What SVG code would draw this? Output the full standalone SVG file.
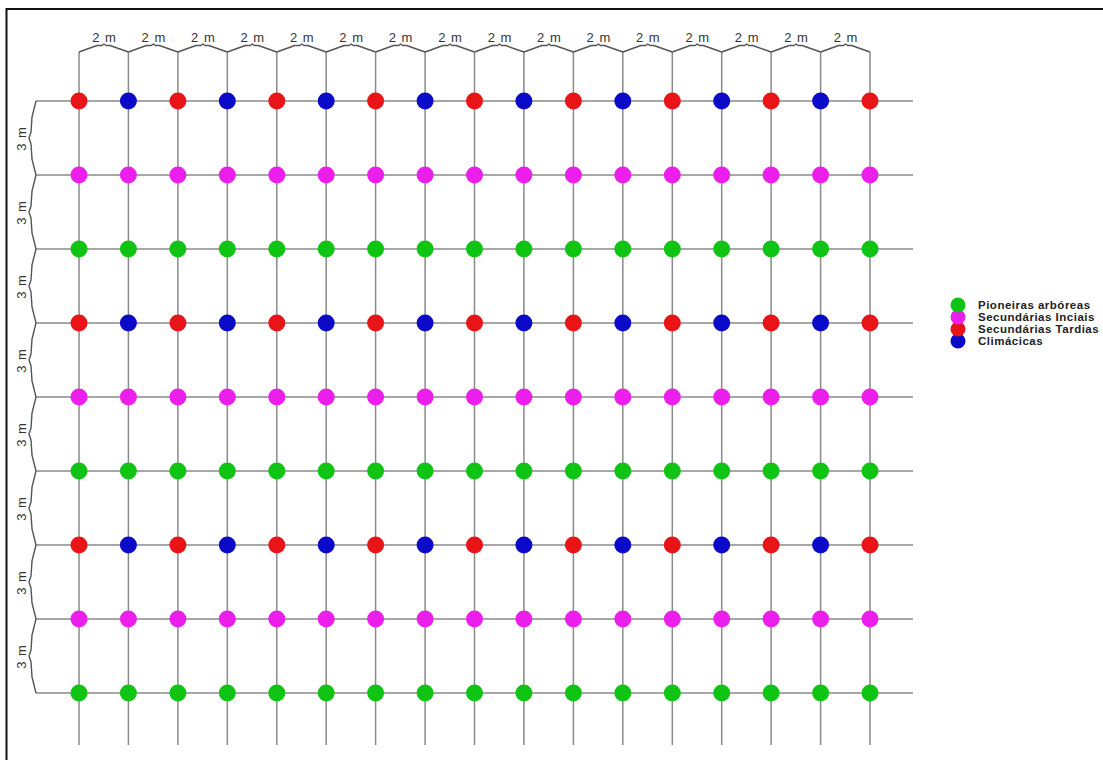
<svg xmlns="http://www.w3.org/2000/svg" width="1103" height="760" viewBox="0 0 1103 760">
<style>
.grid line{stroke:#8a8a8a;stroke-width:1.5}
.brace{fill:none;stroke:#555;stroke-width:1.4;stroke-linejoin:round}
.lbl{font-family:"Liberation Sans",Arial,sans-serif;font-size:13px;letter-spacing:1px;fill:#333;text-anchor:middle}
.leg{font-family:"Liberation Sans",Arial,sans-serif;font-size:11.5px;letter-spacing:0.5px;font-weight:bold;fill:#222}
.r{fill:#e81418}.b{fill:#0a0ac8}.m{fill:#ec1eec}.g{fill:#10c414}
circle{stroke:none}
</style>
<rect x="0" y="0" width="1103" height="760" fill="#fff"/>
<path d="M6.5 770 V9 H1110" fill="none" stroke="#111" stroke-width="2"/>
<g id="connectors">
<g class="grid">
<line x1="36" y1="101" x2="913" y2="101"/><line x1="36" y1="175" x2="913" y2="175"/><line x1="36" y1="249" x2="913" y2="249"/><line x1="36" y1="323" x2="913" y2="323"/><line x1="36" y1="397" x2="913" y2="397"/><line x1="36" y1="471" x2="913" y2="471"/><line x1="36" y1="545" x2="913" y2="545"/><line x1="36" y1="619" x2="913" y2="619"/><line x1="36" y1="693" x2="913" y2="693"/>
<line x1="79" y1="52" x2="79" y2="745"/><line x1="128.4" y1="52" x2="128.4" y2="745"/><line x1="177.9" y1="52" x2="177.9" y2="745"/><line x1="227.3" y1="52" x2="227.3" y2="745"/><line x1="276.8" y1="52" x2="276.8" y2="745"/><line x1="326.2" y1="52" x2="326.2" y2="745"/><line x1="375.6" y1="52" x2="375.6" y2="745"/><line x1="425.1" y1="52" x2="425.1" y2="745"/><line x1="474.5" y1="52" x2="474.5" y2="745"/><line x1="523.9" y1="52" x2="523.9" y2="745"/><line x1="573.4" y1="52" x2="573.4" y2="745"/><line x1="622.8" y1="52" x2="622.8" y2="745"/><line x1="672.3" y1="52" x2="672.3" y2="745"/><line x1="721.7" y1="52" x2="721.7" y2="745"/><line x1="771.1" y1="52" x2="771.1" y2="745"/><line x1="820.6" y1="52" x2="820.6" y2="745"/><line x1="870" y1="52" x2="870" y2="745"/>
</g>
<g id="top-braces" class="brace">
<path d="M79 52 L97 45.5 L102 45.5 L104 44 L106 45.5 L110 45.5 L128.4 52"/>
<path d="M128.4 52 L146.4 45.5 L151.4 45.5 L153.4 44 L155.4 45.5 L159.4 45.5 L177.9 52"/>
<path d="M177.9 52 L195.9 45.5 L200.9 45.5 L202.9 44 L204.9 45.5 L208.9 45.5 L227.3 52"/>
<path d="M227.3 52 L245.3 45.5 L250.3 45.5 L252.3 44 L254.3 45.5 L258.3 45.5 L276.8 52"/>
<path d="M276.8 52 L294.8 45.5 L299.8 45.5 L301.8 44 L303.8 45.5 L307.8 45.5 L326.2 52"/>
<path d="M326.2 52 L344.2 45.5 L349.2 45.5 L351.2 44 L353.2 45.5 L357.2 45.5 L375.6 52"/>
<path d="M375.6 52 L393.6 45.5 L398.6 45.5 L400.6 44 L402.6 45.5 L406.6 45.5 L425.1 52"/>
<path d="M425.1 52 L443.1 45.5 L448.1 45.5 L450.1 44 L452.1 45.5 L456.1 45.5 L474.5 52"/>
<path d="M474.5 52 L492.5 45.5 L497.5 45.5 L499.5 44 L501.5 45.5 L505.5 45.5 L523.9 52"/>
<path d="M523.9 52 L541.9 45.5 L546.9 45.5 L548.9 44 L550.9 45.5 L554.9 45.5 L573.4 52"/>
<path d="M573.4 52 L591.4 45.5 L596.4 45.5 L598.4 44 L600.4 45.5 L604.4 45.5 L622.8 52"/>
<path d="M622.8 52 L640.8 45.5 L645.8 45.5 L647.8 44 L649.8 45.5 L653.8 45.5 L672.3 52"/>
<path d="M672.3 52 L690.3 45.5 L695.3 45.5 L697.3 44 L699.3 45.5 L703.3 45.5 L721.7 52"/>
<path d="M721.7 52 L739.7 45.5 L744.7 45.5 L746.7 44 L748.7 45.5 L752.7 45.5 L771.1 52"/>
<path d="M771.1 52 L789.1 45.5 L794.1 45.5 L796.1 44 L798.1 45.5 L802.1 45.5 L820.6 52"/>
<path d="M820.6 52 L838.6 45.5 L843.6 45.5 L845.6 44 L847.6 45.5 L851.6 45.5 L870 52"/>
</g>
<g id="left-braces" class="brace">
<path d="M36 101 L32 117 L31 132 L29 138 L31 144 L32 159 L36 175"/>
<path d="M36 175 L32 191 L31 206 L29 212 L31 218 L32 233 L36 249"/>
<path d="M36 249 L32 265 L31 280 L29 286 L31 292 L32 307 L36 323"/>
<path d="M36 323 L32 339 L31 354 L29 360 L31 366 L32 381 L36 397"/>
<path d="M36 397 L32 413 L31 428 L29 434 L31 440 L32 455 L36 471"/>
<path d="M36 471 L32 487 L31 502 L29 508 L31 514 L32 529 L36 545"/>
<path d="M36 545 L32 561 L31 576 L29 582 L31 588 L32 603 L36 619"/>
<path d="M36 619 L32 635 L31 650 L29 656 L31 662 L32 677 L36 693"/>
</g>
</g>
<g id="labels-top">
<text class="lbl" x="104.5" y="42">2 m</text><text class="lbl" x="153.9" y="42">2 m</text><text class="lbl" x="203.4" y="42">2 m</text><text class="lbl" x="252.8" y="42">2 m</text><text class="lbl" x="302.3" y="42">2 m</text><text class="lbl" x="351.7" y="42">2 m</text><text class="lbl" x="401.1" y="42">2 m</text><text class="lbl" x="450.6" y="42">2 m</text><text class="lbl" x="500" y="42">2 m</text><text class="lbl" x="549.4" y="42">2 m</text><text class="lbl" x="598.9" y="42">2 m</text><text class="lbl" x="648.3" y="42">2 m</text><text class="lbl" x="697.8" y="42">2 m</text><text class="lbl" x="747.2" y="42">2 m</text><text class="lbl" x="796.6" y="42">2 m</text><text class="lbl" x="846.1" y="42">2 m</text>
</g>
<g id="labels-left">
<text class="lbl" transform="translate(26 138.5) rotate(-90)">3 m</text>
<text class="lbl" transform="translate(26 212.5) rotate(-90)">3 m</text>
<text class="lbl" transform="translate(26 286.5) rotate(-90)">3 m</text>
<text class="lbl" transform="translate(26 360.5) rotate(-90)">3 m</text>
<text class="lbl" transform="translate(26 434.5) rotate(-90)">3 m</text>
<text class="lbl" transform="translate(26 508.5) rotate(-90)">3 m</text>
<text class="lbl" transform="translate(26 582.5) rotate(-90)">3 m</text>
<text class="lbl" transform="translate(26 656.5) rotate(-90)">3 m</text>
</g>
<g id="row1">
<g id="n1-1"><circle class="r" cx="79" cy="101" r="8.5"/></g><g id="n1-2"><circle class="b" cx="128.4" cy="101" r="8.5"/></g><g id="n1-3"><circle class="r" cx="177.9" cy="101" r="8.5"/></g><g id="n1-4"><circle class="b" cx="227.3" cy="101" r="8.5"/></g><g id="n1-5"><circle class="r" cx="276.8" cy="101" r="8.5"/></g><g id="n1-6"><circle class="b" cx="326.2" cy="101" r="8.5"/></g><g id="n1-7"><circle class="r" cx="375.6" cy="101" r="8.5"/></g><g id="n1-8"><circle class="b" cx="425.1" cy="101" r="8.5"/></g><g id="n1-9"><circle class="r" cx="474.5" cy="101" r="8.5"/></g><g id="n1-10"><circle class="b" cx="523.9" cy="101" r="8.5"/></g><g id="n1-11"><circle class="r" cx="573.4" cy="101" r="8.5"/></g><g id="n1-12"><circle class="b" cx="622.8" cy="101" r="8.5"/></g><g id="n1-13"><circle class="r" cx="672.3" cy="101" r="8.5"/></g><g id="n1-14"><circle class="b" cx="721.7" cy="101" r="8.5"/></g><g id="n1-15"><circle class="r" cx="771.1" cy="101" r="8.5"/></g><g id="n1-16"><circle class="b" cx="820.6" cy="101" r="8.5"/></g><g id="n1-17"><circle class="r" cx="870" cy="101" r="8.5"/></g>
</g>
<g id="row2">
<g id="n2-1"><circle class="m" cx="79" cy="175" r="8.5"/></g><g id="n2-2"><circle class="m" cx="128.4" cy="175" r="8.5"/></g><g id="n2-3"><circle class="m" cx="177.9" cy="175" r="8.5"/></g><g id="n2-4"><circle class="m" cx="227.3" cy="175" r="8.5"/></g><g id="n2-5"><circle class="m" cx="276.8" cy="175" r="8.5"/></g><g id="n2-6"><circle class="m" cx="326.2" cy="175" r="8.5"/></g><g id="n2-7"><circle class="m" cx="375.6" cy="175" r="8.5"/></g><g id="n2-8"><circle class="m" cx="425.1" cy="175" r="8.5"/></g><g id="n2-9"><circle class="m" cx="474.5" cy="175" r="8.5"/></g><g id="n2-10"><circle class="m" cx="523.9" cy="175" r="8.5"/></g><g id="n2-11"><circle class="m" cx="573.4" cy="175" r="8.5"/></g><g id="n2-12"><circle class="m" cx="622.8" cy="175" r="8.5"/></g><g id="n2-13"><circle class="m" cx="672.3" cy="175" r="8.5"/></g><g id="n2-14"><circle class="m" cx="721.7" cy="175" r="8.5"/></g><g id="n2-15"><circle class="m" cx="771.1" cy="175" r="8.5"/></g><g id="n2-16"><circle class="m" cx="820.6" cy="175" r="8.5"/></g><g id="n2-17"><circle class="m" cx="870" cy="175" r="8.5"/></g>
</g>
<g id="row3">
<g id="n3-1"><circle class="g" cx="79" cy="249" r="8.5"/></g><g id="n3-2"><circle class="g" cx="128.4" cy="249" r="8.5"/></g><g id="n3-3"><circle class="g" cx="177.9" cy="249" r="8.5"/></g><g id="n3-4"><circle class="g" cx="227.3" cy="249" r="8.5"/></g><g id="n3-5"><circle class="g" cx="276.8" cy="249" r="8.5"/></g><g id="n3-6"><circle class="g" cx="326.2" cy="249" r="8.5"/></g><g id="n3-7"><circle class="g" cx="375.6" cy="249" r="8.5"/></g><g id="n3-8"><circle class="g" cx="425.1" cy="249" r="8.5"/></g><g id="n3-9"><circle class="g" cx="474.5" cy="249" r="8.5"/></g><g id="n3-10"><circle class="g" cx="523.9" cy="249" r="8.5"/></g><g id="n3-11"><circle class="g" cx="573.4" cy="249" r="8.5"/></g><g id="n3-12"><circle class="g" cx="622.8" cy="249" r="8.5"/></g><g id="n3-13"><circle class="g" cx="672.3" cy="249" r="8.5"/></g><g id="n3-14"><circle class="g" cx="721.7" cy="249" r="8.5"/></g><g id="n3-15"><circle class="g" cx="771.1" cy="249" r="8.5"/></g><g id="n3-16"><circle class="g" cx="820.6" cy="249" r="8.5"/></g><g id="n3-17"><circle class="g" cx="870" cy="249" r="8.5"/></g>
</g>
<g id="row4">
<g id="n4-1"><circle class="r" cx="79" cy="323" r="8.5"/></g><g id="n4-2"><circle class="b" cx="128.4" cy="323" r="8.5"/></g><g id="n4-3"><circle class="r" cx="177.9" cy="323" r="8.5"/></g><g id="n4-4"><circle class="b" cx="227.3" cy="323" r="8.5"/></g><g id="n4-5"><circle class="r" cx="276.8" cy="323" r="8.5"/></g><g id="n4-6"><circle class="b" cx="326.2" cy="323" r="8.5"/></g><g id="n4-7"><circle class="r" cx="375.6" cy="323" r="8.5"/></g><g id="n4-8"><circle class="b" cx="425.1" cy="323" r="8.5"/></g><g id="n4-9"><circle class="r" cx="474.5" cy="323" r="8.5"/></g><g id="n4-10"><circle class="b" cx="523.9" cy="323" r="8.5"/></g><g id="n4-11"><circle class="r" cx="573.4" cy="323" r="8.5"/></g><g id="n4-12"><circle class="b" cx="622.8" cy="323" r="8.5"/></g><g id="n4-13"><circle class="r" cx="672.3" cy="323" r="8.5"/></g><g id="n4-14"><circle class="b" cx="721.7" cy="323" r="8.5"/></g><g id="n4-15"><circle class="r" cx="771.1" cy="323" r="8.5"/></g><g id="n4-16"><circle class="b" cx="820.6" cy="323" r="8.5"/></g><g id="n4-17"><circle class="r" cx="870" cy="323" r="8.5"/></g>
</g>
<g id="row5">
<g id="n5-1"><circle class="m" cx="79" cy="397" r="8.5"/></g><g id="n5-2"><circle class="m" cx="128.4" cy="397" r="8.5"/></g><g id="n5-3"><circle class="m" cx="177.9" cy="397" r="8.5"/></g><g id="n5-4"><circle class="m" cx="227.3" cy="397" r="8.5"/></g><g id="n5-5"><circle class="m" cx="276.8" cy="397" r="8.5"/></g><g id="n5-6"><circle class="m" cx="326.2" cy="397" r="8.5"/></g><g id="n5-7"><circle class="m" cx="375.6" cy="397" r="8.5"/></g><g id="n5-8"><circle class="m" cx="425.1" cy="397" r="8.5"/></g><g id="n5-9"><circle class="m" cx="474.5" cy="397" r="8.5"/></g><g id="n5-10"><circle class="m" cx="523.9" cy="397" r="8.5"/></g><g id="n5-11"><circle class="m" cx="573.4" cy="397" r="8.5"/></g><g id="n5-12"><circle class="m" cx="622.8" cy="397" r="8.5"/></g><g id="n5-13"><circle class="m" cx="672.3" cy="397" r="8.5"/></g><g id="n5-14"><circle class="m" cx="721.7" cy="397" r="8.5"/></g><g id="n5-15"><circle class="m" cx="771.1" cy="397" r="8.5"/></g><g id="n5-16"><circle class="m" cx="820.6" cy="397" r="8.5"/></g><g id="n5-17"><circle class="m" cx="870" cy="397" r="8.5"/></g>
</g>
<g id="row6">
<g id="n6-1"><circle class="g" cx="79" cy="471" r="8.5"/></g><g id="n6-2"><circle class="g" cx="128.4" cy="471" r="8.5"/></g><g id="n6-3"><circle class="g" cx="177.9" cy="471" r="8.5"/></g><g id="n6-4"><circle class="g" cx="227.3" cy="471" r="8.5"/></g><g id="n6-5"><circle class="g" cx="276.8" cy="471" r="8.5"/></g><g id="n6-6"><circle class="g" cx="326.2" cy="471" r="8.5"/></g><g id="n6-7"><circle class="g" cx="375.6" cy="471" r="8.5"/></g><g id="n6-8"><circle class="g" cx="425.1" cy="471" r="8.5"/></g><g id="n6-9"><circle class="g" cx="474.5" cy="471" r="8.5"/></g><g id="n6-10"><circle class="g" cx="523.9" cy="471" r="8.5"/></g><g id="n6-11"><circle class="g" cx="573.4" cy="471" r="8.5"/></g><g id="n6-12"><circle class="g" cx="622.8" cy="471" r="8.5"/></g><g id="n6-13"><circle class="g" cx="672.3" cy="471" r="8.5"/></g><g id="n6-14"><circle class="g" cx="721.7" cy="471" r="8.5"/></g><g id="n6-15"><circle class="g" cx="771.1" cy="471" r="8.5"/></g><g id="n6-16"><circle class="g" cx="820.6" cy="471" r="8.5"/></g><g id="n6-17"><circle class="g" cx="870" cy="471" r="8.5"/></g>
</g>
<g id="row7">
<g id="n7-1"><circle class="r" cx="79" cy="545" r="8.5"/></g><g id="n7-2"><circle class="b" cx="128.4" cy="545" r="8.5"/></g><g id="n7-3"><circle class="r" cx="177.9" cy="545" r="8.5"/></g><g id="n7-4"><circle class="b" cx="227.3" cy="545" r="8.5"/></g><g id="n7-5"><circle class="r" cx="276.8" cy="545" r="8.5"/></g><g id="n7-6"><circle class="b" cx="326.2" cy="545" r="8.5"/></g><g id="n7-7"><circle class="r" cx="375.6" cy="545" r="8.5"/></g><g id="n7-8"><circle class="b" cx="425.1" cy="545" r="8.5"/></g><g id="n7-9"><circle class="r" cx="474.5" cy="545" r="8.5"/></g><g id="n7-10"><circle class="b" cx="523.9" cy="545" r="8.5"/></g><g id="n7-11"><circle class="r" cx="573.4" cy="545" r="8.5"/></g><g id="n7-12"><circle class="b" cx="622.8" cy="545" r="8.5"/></g><g id="n7-13"><circle class="r" cx="672.3" cy="545" r="8.5"/></g><g id="n7-14"><circle class="b" cx="721.7" cy="545" r="8.5"/></g><g id="n7-15"><circle class="r" cx="771.1" cy="545" r="8.5"/></g><g id="n7-16"><circle class="b" cx="820.6" cy="545" r="8.5"/></g><g id="n7-17"><circle class="r" cx="870" cy="545" r="8.5"/></g>
</g>
<g id="row8">
<g id="n8-1"><circle class="m" cx="79" cy="619" r="8.5"/></g><g id="n8-2"><circle class="m" cx="128.4" cy="619" r="8.5"/></g><g id="n8-3"><circle class="m" cx="177.9" cy="619" r="8.5"/></g><g id="n8-4"><circle class="m" cx="227.3" cy="619" r="8.5"/></g><g id="n8-5"><circle class="m" cx="276.8" cy="619" r="8.5"/></g><g id="n8-6"><circle class="m" cx="326.2" cy="619" r="8.5"/></g><g id="n8-7"><circle class="m" cx="375.6" cy="619" r="8.5"/></g><g id="n8-8"><circle class="m" cx="425.1" cy="619" r="8.5"/></g><g id="n8-9"><circle class="m" cx="474.5" cy="619" r="8.5"/></g><g id="n8-10"><circle class="m" cx="523.9" cy="619" r="8.5"/></g><g id="n8-11"><circle class="m" cx="573.4" cy="619" r="8.5"/></g><g id="n8-12"><circle class="m" cx="622.8" cy="619" r="8.5"/></g><g id="n8-13"><circle class="m" cx="672.3" cy="619" r="8.5"/></g><g id="n8-14"><circle class="m" cx="721.7" cy="619" r="8.5"/></g><g id="n8-15"><circle class="m" cx="771.1" cy="619" r="8.5"/></g><g id="n8-16"><circle class="m" cx="820.6" cy="619" r="8.5"/></g><g id="n8-17"><circle class="m" cx="870" cy="619" r="8.5"/></g>
</g>
<g id="row9">
<g id="n9-1"><circle class="g" cx="79" cy="693" r="8.5"/></g><g id="n9-2"><circle class="g" cx="128.4" cy="693" r="8.5"/></g><g id="n9-3"><circle class="g" cx="177.9" cy="693" r="8.5"/></g><g id="n9-4"><circle class="g" cx="227.3" cy="693" r="8.5"/></g><g id="n9-5"><circle class="g" cx="276.8" cy="693" r="8.5"/></g><g id="n9-6"><circle class="g" cx="326.2" cy="693" r="8.5"/></g><g id="n9-7"><circle class="g" cx="375.6" cy="693" r="8.5"/></g><g id="n9-8"><circle class="g" cx="425.1" cy="693" r="8.5"/></g><g id="n9-9"><circle class="g" cx="474.5" cy="693" r="8.5"/></g><g id="n9-10"><circle class="g" cx="523.9" cy="693" r="8.5"/></g><g id="n9-11"><circle class="g" cx="573.4" cy="693" r="8.5"/></g><g id="n9-12"><circle class="g" cx="622.8" cy="693" r="8.5"/></g><g id="n9-13"><circle class="g" cx="672.3" cy="693" r="8.5"/></g><g id="n9-14"><circle class="g" cx="721.7" cy="693" r="8.5"/></g><g id="n9-15"><circle class="g" cx="771.1" cy="693" r="8.5"/></g><g id="n9-16"><circle class="g" cx="820.6" cy="693" r="8.5"/></g><g id="n9-17"><circle class="g" cx="870" cy="693" r="8.5"/></g>
</g>
<g id="legend">
<circle class="b" cx="958" cy="341" r="7.5"/>
<circle class="r" cx="958" cy="329" r="7.5"/>
<circle class="m" cx="958" cy="317" r="7.5"/>
<circle class="g" cx="958" cy="305" r="7.5"/>
<text class="leg" x="978" y="309">Pioneiras arbóreas</text>
<text class="leg" x="978" y="321">Secundárias Inciais</text>
<text class="leg" x="978" y="333">Secundárias Tardias</text>
<text class="leg" x="978" y="345">Climácicas</text>
</g>
</svg>
